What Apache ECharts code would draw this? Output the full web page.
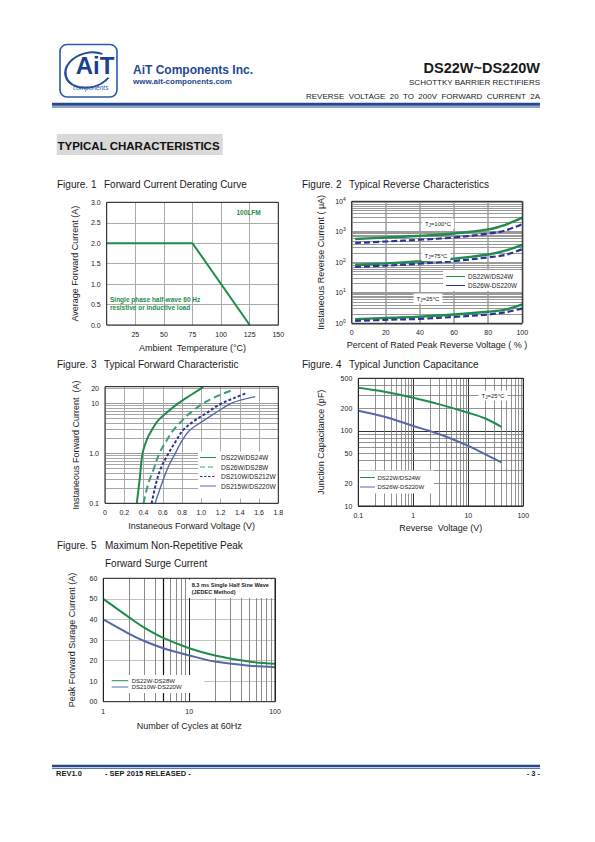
<!DOCTYPE html>
<html><head><meta charset="utf-8">
<script src="https://cdn.jsdelivr.net/npm/echarts@6/dist/echarts.min.js"></script>
<style>html,body{margin:0;padding:0;background:#fff}#page{width:595px;height:842px}</style>
</head><body><div id="page"></div>
<script>
// ---------- Figure 1 : Forward Current Derating Curve ----------
const f1Temp = [0, 75, 125];
const f1Current = [2.0, 2.0, 0.0];
const f1XTicks = [25, 50, 75, 100, 125, 150];

// ---------- Figure 2 : Typical Reverse Characteristics ----------
const f2Pct = [2, 20, 40, 60, 80, 90, 100];
const f2Green100 = [580, 650, 740, 880, 1200, 1700, 2900];
const f2Blue100 = [430, 480, 550, 650, 870, 1100, 1800];
const f2Green75 = [82, 92, 108, 132, 180, 240, 370];
const f2Blue75 = [70, 78, 90, 110, 145, 175, 270];
const f2Green25 = [1.36, 1.5, 1.65, 1.95, 2.4, 2.8, 4.2];
const f2Blue25 = [1.2, 1.3, 1.4, 1.62, 1.95, 2.3, 3.1];

// ---------- Figure 3 : Typical Forward Characteristic ----------
const f3V_2224 = [0.33, 0.36, 0.39, 0.44, 0.49, 0.55, 0.64, 0.76, 0.9, 1.02];
const f3I_2224 = [0.1, 0.3, 1, 2, 3, 4.5, 6.5, 10, 15, 21];
const f3V_2628 = [0.40, 0.45, 0.5, 0.565, 0.64, 0.71, 0.8, 0.88, 1.02, 1.15, 1.31];
const f3I_2628 = [0.1, 0.25, 0.45, 1, 1.8, 2.9, 4.5, 6.3, 10, 13.5, 18];
const f3V_210212 = [0.485, 0.53, 0.58, 0.66, 0.74, 0.81, 0.93, 1.05, 1.19, 1.33, 1.47];
const f3I_210212 = [0.1, 0.25, 0.5, 1, 1.8, 2.9, 4.5, 6.3, 9.5, 12.5, 16];
const f3V_215220 = [0.52, 0.6, 0.66, 0.73, 0.8, 0.88, 1.0, 1.14, 1.31, 1.44, 1.56];
const f3I_215220 = [0.1, 0.28, 0.55, 1, 1.8, 2.9, 4.2, 6.3, 10, 12, 13.6];
const f3YTickVals = [0.1, 1, 10, 20];
const f3YTickText = ['0.1', '1.0', '10', '20'];

// ---------- Figure 4 : Typical Junction Capacitance ----------
const f4Volt = [0.1, 0.3, 1, 3, 10, 20, 40];
const f4Cap2224 = [374, 331, 276, 225, 174, 147, 113];
const f4Cap26220 = [185, 154, 116, 90, 63, 49, 38];
const f4XTickVals = [0.1, 1, 10, 100];
const f4YTickVals = [10, 20, 50, 100, 200, 500];

// ---------- Figure 5 : Max Non-Repetitive Peak Forward Surge Current ----------
const f5Cycles = [1, 2, 3, 5, 10, 20, 50, 100];
const f5Surge2228 = [50, 41, 36, 31, 26, 22.5, 19.5, 18.5];
const f5Surge210220 = [40, 33, 29.5, 26, 22.5, 19.5, 17.5, 16.8];
const f5XTickVals = [1, 10, 100];
const f5YTickVals = [0, 10, 20, 30, 40, 50, 60];
const f5YTickText = ['00', '10', '20', '30', '40', '50', '60'];

// ---------- styling ----------
const FONT = '"Liberation Sans", Arial, Helvetica, sans-serif';
const GREEN = '#1f8c4c';
const TEAL = '#3d9c7c';
const BLUE_D = '#2c3398';
const BLUE_S = '#5568a8';
const NAVY = '#24498f';
const INK = '#1a1a1a';

const grids = [
  {left: 106.7, top: 202.3, width: 171.6, height: 122.7},
  {left: 351.7, top: 201.3, width: 170.6, height: 122},
  {left: 105, top: 386.7, width: 173.3, height: 116.6},
  {left: 358.3, top: 378.3, width: 165, height: 127.7},
  {left: 103.3, top: 578.3, width: 171.7, height: 123.4}
];

function isPow10(v) { const r = Math.log10(v); return Math.abs(r - Math.round(r)) < 1e-6; }
function near(a, b) { return Math.abs(a - b) <= 1e-6 * Math.max(1, Math.abs(b)); }
function tickFmt(vals, texts) {
  return function (v) {
    for (let i = 0; i < vals.length; i++) if (near(v, vals[i])) return texts ? texts[i] : String(vals[i]);
    return '';
  };
}
function minorLog(min, max) {
  const out = [];
  for (let e = Math.floor(Math.log10(min)); e <= Math.ceil(Math.log10(max)); e++) {
    for (let m = 2; m <= 9; m++) { const v = +(m * Math.pow(10, e)).toPrecision(6); if (v > min && v < max) out.push(v); }
  }
  return out;
}

function mkAxis(o) {
  const a = {
    type: o.type, gridIndex: o.grid, min: o.min, max: o.max,
    name: o.name, nameLocation: 'middle', nameGap: o.nameGap,
    nameTextStyle: {fontFamily: FONT, fontSize: 9, color: INK},
    axisLine: {show: false}, axisTick: {show: false},
    axisLabel: {show: true, fontFamily: FONT, fontSize: 7, color: INK, margin: 6,
      formatter: o.fmt, showMinLabel: true, showMaxLabel: true, hideOverlap: false},
    splitLine: {show: true, lineStyle: {color: o.split || '#aaa', width: o.splitW || 1}},
    minorTick: {show: false}, minorSplitLine: {show: false}
  };
  if (o.interval != null) a.interval = o.interval;
  if (o.type === 'log') a.logBase = 10;
  if (o.rich) a.axisLabel.rich = o.rich;
  return a;
}

const xAxes = [
  mkAxis({type: 'value', grid: 0, min: 0, max: 150, interval: 25, name: 'Ambient  Temperature (°C)', nameGap: 18,
    fmt: tickFmt(f1XTicks), split: '#ababab'}),
  mkAxis({type: 'value', grid: 1, min: 0, max: 100, interval: 20, name: 'Percent of Rated Peak Reverse Voltage ( % )', nameGap: 17,
    fmt: v => String(Math.round(v)), split: '#9c9c9c', splitW: 1.5}),
  mkAxis({type: 'value', grid: 2, min: 0, max: 1.8, interval: 0.2, name: 'Instaneous Forward Voltage (V)', nameGap: 18,
    fmt: v => (Math.abs(v) < 1e-9 ? '0' : v.toFixed(1)), split: '#ababab'}),
  mkAxis({type: 'log', grid: 3, min: 0.1, max: 100, name: 'Reverse  Voltage (V)', nameGap: 17,
    fmt: tickFmt(f4XTickVals), split: '#333'}),
  mkAxis({type: 'log', grid: 4, min: 1, max: 100, name: 'Number of Cycles at 60Hz', nameGap: 20,
    fmt: tickFmt(f5XTickVals), split: '#222'})
];
const yAxes = [
  mkAxis({type: 'value', grid: 0, min: 0, max: 3, interval: 0.5, name: 'Average Forward Current (A)', nameGap: 27,
    fmt: v => v.toFixed(1), split: '#ababab'}),
  mkAxis({type: 'log', grid: 1, min: 1, max: 10000, name: 'Instaneous Reverse Current ( μA)', nameGap: 26,
    fmt: v => '10{sup|' + Math.round(Math.log10(v)) + '}', split: '#7a7a7a', splitW: 1.5,
    rich: {sup: {fontSize: 5, fontFamily: FONT, color: INK, padding: [0, 0, 5, 0]}}}),
  mkAxis({type: 'log', grid: 2, min: 0.1, max: 21.5, name: 'Instaneous Forward Current  (A)', nameGap: 25,
    fmt: v => (isPow10(v) ? tickFmt(f3YTickVals, f3YTickText)(v) : ''), split: '#999'}),
  mkAxis({type: 'log', grid: 3, min: 10, max: 500, name: 'Junction Capacitance (pF)', nameGap: 33,
    fmt: v => (isPow10(v) ? tickFmt(f4YTickVals)(v) : ''), split: '#333'}),
  mkAxis({type: 'value', grid: 4, min: 0, max: 60, interval: 10, name: 'Peak Forward Surage Current (A)', nameGap: 27,
    fmt: tickFmt(f5YTickVals, f5YTickText), split: '#c4c4c4'})
];

function pairs(xs, ys) { return xs.map((x, i) => [x, ys[i]]); }
function lineSeries(name, idx, xs, ys, color, width, dash, smooth) {
  return {
    name, type: 'line', xAxisIndex: idx, yAxisIndex: idx, data: pairs(xs, ys),
    symbol: 'none', showSymbol: false, smooth: smooth == null ? 0.35 : smooth, z: 3, silent: true,
    lineStyle: {color, width, type: dash || 'solid'}, emphasis: {disabled: true}
  };
}
function markLines(items) {
  return {
    silent: true, symbol: ['none', 'none'], z: 1, animation: false,
    label: {show: false, position: 'start', distance: 6, color: INK, fontSize: 7, fontFamily: FONT},
    lineStyle: {type: 'solid'}, emphasis: {disabled: true}, data: items
  };
}
function hItems(vals, color, width, labelVals, labelTexts) {
  return vals.map(v => {
    const it = {yAxis: v, lineStyle: {color, width, type: 'solid'}};
    if (labelVals) {
      const k = labelVals.findIndex(t => near(v, t));
      if (k >= 0) it.label = {show: true, formatter: labelTexts ? labelTexts[k] : String(labelVals[k])};
    }
    return it;
  });
}
function vItems(vals, color, width, darkVals) {
  return vals.map(v => ({xAxis: v, lineStyle: {color: (darkVals && darkVals.includes(v)) ? '#111' : color,
    width: (darkVals && darkVals.includes(v)) ? 1.2 : width, type: 'solid'}}));
}

// Figure 1
const s1 = lineSeries('DS22W~DS220W', 0, f1Temp, f1Current, GREEN, 2, 'solid', false);

// Figure 2
const s2 = [
  lineSeries('DS22W/DS24W', 1, f2Pct, f2Green100, GREEN, 2.4),
  lineSeries('DS26W-DS220W', 1, f2Pct, f2Blue100, BLUE_D, 2.2, [6, 3]),
  lineSeries('DS22W/DS24W', 1, f2Pct, f2Green75, GREEN, 2.4),
  lineSeries('DS26W-DS220W', 1, f2Pct, f2Blue75, BLUE_D, 2.2, [6, 3]),
  lineSeries('DS22W/DS24W', 1, f2Pct, f2Green25, GREEN, 2.4),
  lineSeries('DS26W-DS220W', 1, f2Pct, f2Blue25, BLUE_D, 2.2, [6, 3])
];
s2[0].markLine = markLines(hItems(minorLog(1, 10000), '#9a9a9a', 1.1));

// Figure 3
const s3 = [
  lineSeries('DS22W/DS24W', 2, f3V_2224, f3I_2224, GREEN, 2),
  lineSeries('DS26W/DS28W', 2, f3V_2628, f3I_2628, TEAL, 2, [7, 4]),
  lineSeries('DS210W/DS212W', 2, f3V_210212, f3I_210212, BLUE_D, 2, [3, 2]),
  lineSeries('DS215W/DS220W', 2, f3V_215220, f3I_215220, BLUE_S, 1.4)
];
s3[0].markLine = markLines(hItems(minorLog(0.1, 21.5).concat([20]).filter((v, i, a) => a.indexOf(v) === i),
  '#a6a6a6', 1, f3YTickVals.filter(v => !isPow10(v)),
  f3YTickText.filter((t, i) => !isPow10(f3YTickVals[i]))));

// Figure 4
const s4 = [
  lineSeries('DS22W/DS24W', 3, f4Volt, f4Cap2224, GREEN, 2),
  lineSeries('DS26W-DS220W', 3, f4Volt, f4Cap26220, BLUE_S, 2)
];
const f4YMinor = minorLog(10, 500).concat([500]);
s4[0].markLine = markLines(
  hItems(f4YMinor, '#777', 0.8, f4YTickVals.filter(v => !isPow10(v)))
    .concat(vItems(minorLog(0.1, 100), '#777', 0.8))
);

// Figure 5
const s5 = [
  lineSeries('DS22W-DS28W', 4, f5Cycles, f5Surge2228, GREEN, 2),
  lineSeries('DS210W-DS220W', 4, f5Cycles, f5Surge210220, BLUE_S, 2)
];
s5[0].markLine = markLines(vItems(minorLog(1, 100), '#8a8a8a', 1, [5]));

// ---------- page graphics (header, titles, notes, legends, frames) ----------
function T(text, x, y, size, opts) {
  return {type: 'text', x, y, z: 30, silent: true,
    style: Object.assign({text, fontSize: size, fontFamily: FONT, fill: INK, align: 'left', verticalAlign: 'middle'}, opts || {})};
}
function R(x, y, w, h, fill, z, extra) {
  return {type: 'rect', z: z || 20, silent: true, shape: {x, y, width: w, height: h}, style: Object.assign({fill}, extra || {})};
}
function L(x1, y1, x2, y2, color, width, dash, z) {
  return {type: 'line', z: z || 30, silent: true, shape: {x1, y1, x2, y2},
    style: {stroke: color, lineWidth: width, lineDash: dash || null}};
}
const sub = {sub: {fontSize: 4.5, fontFamily: FONT, fill: INK, padding: [3, 0, 0, 0]}};

const els = [
  // logo
  {type: 'rect', z: 20, silent: true, shape: {x: 60, y: 44.5, width: 57, height: 52.5, r: 7},
    style: {fill: '#fff', stroke: '#2b5aa8', lineWidth: 1.6}},
  {type: 'arc', z: 21, silent: true, shape: {cx: 89, cy: 70, r: 24, startAngle: 0.25 * Math.PI, endAngle: 1.75 * Math.PI, clockwise: true},
    scaleY: 0.72, originX: 89, originY: 70, rotation: 0.25, style: {stroke: '#1f4f9c', lineWidth: 2.4, fill: null}},
  T('AiT', 95, 65, 24, {fontWeight: 'bold', fill: '#1a3f8f', align: 'center', stroke: '#fff', lineWidth: 1}),
  T('components', 73, 87.5, 6.5, {fontStyle: 'italic', fill: '#2b5aa8'}),
  // header texts
  T('AiT Components Inc.', 133, 70, 12, {fontWeight: 'bold', fill: NAVY}),
  T('www.ait-components.com', 133, 81, 8, {fontWeight: 'bold', fill: NAVY}),
  T('DS22W~DS220W', 540, 67.5, 14.5, {fontWeight: 'bold', align: 'right'}),
  T('SCHOTTKY BARRIER RECTIFIERS', 540, 82.5, 8, {align: 'right'}),
  T('REVERSE  VOLTAGE  20  TO  200V  FORWARD  CURRENT  2A', 540, 96.5, 8, {align: 'right'}),
  R(52, 102.7, 488, 3, NAVY),
  R(52, 106.4, 488, 1, NAVY),
  // section heading
  R(56.7, 134, 166, 21, '#d9d9d9', 19),
  T('TYPICAL CHARACTERISTICS', 57.5, 145.5, 11.5, {fontWeight: 'bold', fill: '#111'}),
  // figure titles
  T('Figure. 1', 57, 184, 10), T('Forward Current Derating Curve', 104, 184, 10),
  T('Figure. 2', 302, 184, 10), T('Typical Reverse Characteristics', 349, 184, 10),
  T('Figure. 3', 57, 364, 10), T('Typical Forward Characteristic', 104, 364, 10),
  T('Figure. 4', 302, 364, 10), T('Typical Junction Capacitance', 349, 364, 10),
  T('Figure. 5', 57, 545, 10), T('Maximum Non-Repetitive Peak', 105, 545, 10),
  T('Forward Surge Current', 105, 563, 10),
  // figure 1 notes
  T('100LFM', 236.5, 212.7, 6.5, {fontWeight: 'bold', fill: GREEN}),
  T('Single phase half-wave 60 Hz', 110, 299, 6.5, {fontWeight: 'bold', fill: GREEN}),
  T('resistive or inductive load', 110, 307, 6.5, {fontWeight: 'bold', fill: GREEN}),
  // figure 2 notes + legend
  T('T{sub|J}=100°C', 438, 224, 6, {align: 'center', backgroundColor: '#fff', padding: [1, 3], rich: sub}),
  T('T{sub|J}=75°C', 436, 256, 6, {align: 'center', backgroundColor: '#fff', padding: [1, 3], rich: sub}),
  T('T{sub|J}=25°C', 428, 298.5, 6, {align: 'center', backgroundColor: '#fff', padding: [1, 3], rich: sub}),
  R(443, 270, 79, 21, '#fff', 25),
  L(446, 276.5, 465, 276.5, GREEN, 1), T('DS22W/DS24W', 468, 276.5, 6.3),
  L(446, 285.5, 465, 285.5, BLUE_D, 1), T('DS26W-DS220W', 468, 285.5, 6.3),
  // figure 3 legend
  R(198, 451.5, 80, 47, '#fff', 25),
  L(200, 457.5, 216, 457.5, GREEN, 1), T('DS22W/DS24W', 221, 457.5, 6.6),
  L(200, 467, 216, 467, TEAL, 1, [5, 3]), T('DS26W/DS28W', 221, 467, 6.6),
  L(200, 476.5, 216, 476.5, BLUE_D, 1, [2.5, 1.5]), T('DS210W/DS212W', 221, 476.5, 6.6),
  L(200, 486, 216, 486, BLUE_S, 1), T('DS215W/DS220W', 221, 486, 6.6),
  // figure 4 note + legend
  T('T{sub|J}=25°C', 493, 395.5, 6, {align: 'center', backgroundColor: '#fff', padding: [1, 3], rich: sub}),
  R(359, 470.5, 75, 23, '#fff', 25),
  L(360, 477.5, 375, 477.5, GREEN, 1), T('DS22W/DS24W', 377.5, 477.5, 6),
  L(360, 487, 375, 487, BLUE_S, 1), T('DS26W-DS220W', 377.5, 487, 6),
  // figure 5 note + legend
  R(188, 579.5, 85, 18.5, '#fff', 25),
  T('8.3 ms Single Half Sine Wave', 191.7, 585, 5.6, {fontWeight: 'bold'}),
  T('(JEDEC Method)', 191.7, 592.3, 5.6, {fontWeight: 'bold'}),
  R(104, 675, 100, 18, '#fff', 25),
  L(111.7, 680.7, 128.3, 680.7, GREEN, 1), T('DS22W-DS28W', 131.7, 680.7, 6, {lineHeight: 6}),
  L(111.7, 687, 128.3, 687, BLUE_S, 1), T('DS210W-DS220W', 131.7, 687, 6, {lineHeight: 6}),
  // footer
  R(52, 764.8, 488, 2.5, NAVY),
  R(52, 768, 488, 0.7, NAVY),
  T('REV1.0', 56, 773, 7.5, {fontWeight: 'bold'}),
  T('- SEP 2015 RELEASED -', 105, 773, 7.5, {fontWeight: 'bold'}),
  T('- 3 -', 540, 773, 7.5, {fontWeight: 'bold', align: 'right'})
];
// plot frames
grids.forEach(g => els.push({type: 'rect', z: 50, silent: true,
  shape: {x: g.left, y: g.top, width: g.width, height: g.height},
  style: {fill: 'none', stroke: '#222', lineWidth: 1}}));

const option = {
  animation: false,
  textStyle: {fontFamily: FONT},
  grid: grids.map(g => Object.assign({show: false, containLabel: false}, g)),
  xAxis: xAxes,
  yAxis: yAxes,
  series: [s1].concat(s2, s3, s4, s5),
  graphic: {elements: els}
};

const chart = echarts.init(document.getElementById('page'), null, {renderer: 'svg', width: 595, height: 842});
chart.setOption(option);
</script>
</body></html>
